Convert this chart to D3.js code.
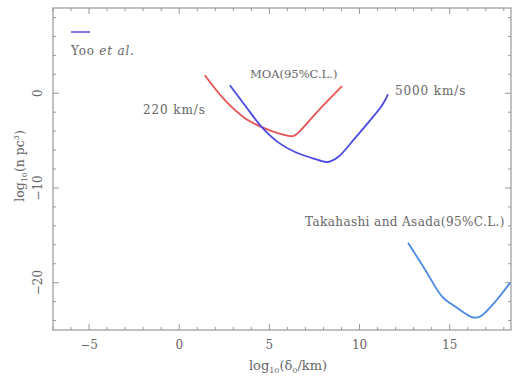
<!DOCTYPE html>
<html>
<head>
<meta charset="utf-8">
<script src="https://cdn.jsdelivr.net/npm/d3@7"></script>
<style>
  body { margin: 0; background: #fff; }
  text { font-family: "DejaVu Serif", "Liberation Serif", serif; fill: #666; }
</style>
</head>
<body>
<svg id="chart" width="515" height="378"></svg>
<script>
// curves (x = log10(b0/km), y = log10(n pc^3))
const moa220 = [[1.42, 1.89], [2.53, -0.74], [3.64, -2.63], [4.58, -3.58], [5.47, -4.21], [6.31, -4.53], [6.58, -4.21], [7.69, -1.89], [9.03, 0.74]];
const moa5000 = [[2.81, 0.84], [3.64, -1.26], [4.58, -3.58], [5.47, -5.16], [6.42, -6.21], [7.36, -6.84], [8.25, -7.26], [8.81, -6.74], [9.75, -4.74], [10.69, -2.63], [11.25, -1.26], [11.58, -0.11]];
const takahashi = [[12.69, -15.79], [13.64, -18.63], [14.58, -21.47], [15.31, -22.53], [16.31, -23.68], [16.69, -23.58], [17.53, -22.0], [18.36, -20.0]];

const xMajor = [-5, 0, 5, 10, 15];
const yMajor = [0, -10, -20];

const svg = d3.select('#chart');
const margin = { left: 53, right: 511, top: 8, bottom: 330 };

const x = d3.scaleLinear().domain([-7, 18.4]).range([margin.left, margin.right]);
const y = d3.scaleLinear().domain([-25, 9]).range([margin.bottom, margin.top]);

const axisColor = '#999';

// frame
svg.append('rect')
  .attr('x', margin.left).attr('y', margin.top)
  .attr('width', margin.right - margin.left).attr('height', margin.bottom - margin.top)
  .attr('fill', 'none').attr('stroke', axisColor).attr('stroke-width', 1.2);

// ticks, pointing in, on all four sides
const xTicks = d3.range(-7, 19, 1);
const yTicks = d3.range(-24, 9, 2);
const g = svg.append('g').attr('stroke', axisColor).attr('stroke-width', 1);
xTicks.forEach(t => {
  const len = t % 5 == 0 ? 6 : 3;
  g.append('line').attr('x1', x(t)).attr('x2', x(t)).attr('y1', margin.bottom).attr('y2', margin.bottom - len);
  g.append('line').attr('x1', x(t)).attr('x2', x(t)).attr('y1', margin.top).attr('y2', margin.top + len);
});
yTicks.forEach(t => {
  const len = t % 10 == 0 ? 6 : 3;
  g.append('line').attr('y1', y(t)).attr('y2', y(t)).attr('x1', margin.left).attr('x2', margin.left + len);
  g.append('line').attr('y1', y(t)).attr('y2', y(t)).attr('x1', margin.right).attr('x2', margin.right - len);
});

// tick labels
svg.selectAll('.xlab').data(xMajor).join('text')
  .attr('x', d => x(d)).attr('y', margin.bottom + 19)
  .attr('text-anchor', 'middle').attr('font-size', 12)
  .text(d => d < 0 ? '\u2212' + Math.abs(d) : d);

svg.selectAll('.ylab').data(yMajor).join('text')
  .attr('transform', d => `translate(${margin.left - 11},${y(d)}) rotate(-90)`)
  .attr('text-anchor', 'middle').attr('font-size', 12)
  .text(d => d < 0 ? '\u2212' + Math.abs(d) : d);

// axis titles
const xt = svg.append('text').attr('x', 288).attr('y', 370).attr('text-anchor', 'middle').attr('font-size', 13);
xt.append('tspan').text('log');
xt.append('tspan').attr('font-size', 8).attr('dy', 3).text('10');
xt.append('tspan').attr('dy', -3).text('(\u03b4');
xt.append('tspan').attr('font-size', 8).attr('dy', 3).text('0');
xt.append('tspan').attr('dy', -3).text('/km)');

const yt = svg.append('text').attr('transform', 'translate(24,166) rotate(-90)').attr('text-anchor', 'middle').attr('font-size', 12.5);
yt.append('tspan').text('log');
yt.append('tspan').attr('font-size', 8).attr('dy', 3).text('10');
yt.append('tspan').attr('dy', -3).text('(n pc');
yt.append('tspan').attr('font-size', 8).attr('dy', -5).text('3');
yt.append('tspan').attr('dy', 5).text(')');

// curves
const line = d3.line().x(d => x(d[0])).y(d => y(d[1])).curve(d3.curveCatmullRom.alpha(0.5));
svg.append('path').datum(moa220).attr('d', line).attr('fill', 'none').attr('stroke', '#e65454').attr('stroke-width', 1.8);
svg.append('path').datum(moa5000).attr('d', line).attr('fill', 'none').attr('stroke', '#4a4ae0').attr('stroke-width', 1.8);
svg.append('path').datum(takahashi).attr('d', line).attr('fill', 'none').attr('stroke', '#4a8ae2').attr('stroke-width', 1.8);

// legend
svg.append('line').attr('x1', 71).attr('x2', 90).attr('y1', 32).attr('y2', 32).attr('stroke', '#7a6ae0').attr('stroke-width', 1.8);
const yoo = svg.append('text').attr('x', 71).attr('y', 55).attr('font-size', 12).attr('letter-spacing', 0.8);
yoo.append('tspan').text('Yoo ');
yoo.append('tspan').attr('font-style', 'italic').text('et al.');

// annotations
svg.append('text').attr('x', 250).attr('y', 78).attr('font-size', 11.5).text('MOA(95%C.L.)');
svg.append('text').attr('x', 143).attr('y', 114).attr('font-size', 12).attr('letter-spacing', 0.9).text('220 km/s');
svg.append('text').attr('x', 395).attr('y', 95).attr('font-size', 12).attr('letter-spacing', 0.9).text('5000 km/s');
svg.append('text').attr('x', 305).attr('y', 226).attr('font-size', 12).attr('letter-spacing', 0.4).text('Takahashi and Asada(95%C.L.)');
</script>
</body>
</html>
